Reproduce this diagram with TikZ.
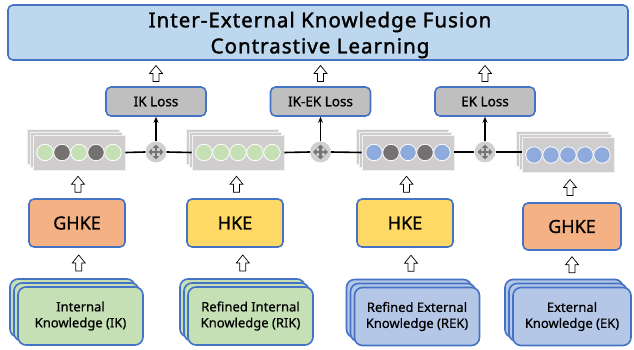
\documentclass[tikz,border=0pt]{standalone}
\usepackage{fontspec}
\setmainfont{Noto Sans}
\newfontfamily\heavyfont{Noto Sans}[FakeBold=1.6, LetterSpace=5]
\newfontfamily\midfont{Noto Sans}[FakeBold=1.0]
\newfontfamily\lightfont{Noto Sans}[FakeBold=0.6]
\usetikzlibrary{shadows,arrows.meta,calc}

\definecolor{bordblue}{HTML}{4472C4}
\definecolor{titlefill}{HTML}{BDD7EE}
\definecolor{lossgray}{HTML}{BFBFBF}
\definecolor{ghkefill}{HTML}{F4B183}
\definecolor{hkefill}{HTML}{FFD966}
\definecolor{kgreen}{HTML}{C5E0B4}
\definecolor{kblue}{HTML}{B4C7E7}
\definecolor{dotblue}{HTML}{8FAADC}
\definecolor{dotdark}{HTML}{767171}
\definecolor{stackgray}{HTML}{CFCDCD}
\definecolor{plusgray}{HTML}{D0D0D0}
\definecolor{plusarrow}{HTML}{767676}

\tikzset{
  box/.style={draw=bordblue, line width=1.6pt, rounded corners=5pt, align=center, inner sep=0pt},
  losbox/.style={box, fill=lossgray, minimum width=100, minimum height=29,
    font=\midfont\fontsize{13.5}{16}\selectfont},
  encbox/.style={box, minimum width=96, minimum height=48, font=\midfont\fontsize{18}{20}\selectfont},
  kbox/.style={box, rounded corners=8pt, minimum width=125, minimum height=58,
    font=\lightfont\fontsize{13}{16}\selectfont,
    double copy shadow={shadow xshift=-4pt, shadow yshift=4pt}},
  vec/.style={fill=stackgray, draw=white!90!gray, line width=0.8pt, minimum width=92, minimum height=35,
    inner sep=0pt, double copy shadow={shadow xshift=-3pt, shadow yshift=3pt}},
  dot/.style={circle, draw=white, line width=0.8pt, minimum size=16.5, inner sep=0pt},
  plus/.style={circle, fill=plusgray, minimum size=21, inner sep=0pt},
  plusarr/.style={draw=plusarrow, line width=2.2pt, -{Triangle[length=3.5pt,width=6.5pt]}},
  link/.style={draw=black, line width=1.6pt},
  uparr/.pic={\draw[line width=0.7pt, fill=white]
    (-3,8) -- (-3,0) -- (-6.5,0) -- (0,-8) -- (6.5,0) -- (3,0) -- (3,8) -- cycle;}
}

\begin{document}
\begin{tikzpicture}[x=1pt,y=-1pt]
\useasboundingbox (0,0) rectangle (634,350);

% contrastive learning head
\node[box, fill=titlefill, minimum width=620, minimum height=55] (title) at (318,32.5) {};
\node[align=center, inner sep=0pt, font=\heavyfont\fontsize{20.5}{26}\selectfont]
  (titletext) at (320,35) {Inter-External Knowledge Fusion\\Contrastive Learning};

% loss boxes
\node[losbox] (lik)  at (156,101.5) {IK Loss};
\node[losbox] (likek) at (320.5,101.5) {IK-EK Loss};
\node[losbox] (lek)  at (485,101.5) {EK Loss};

% stacked representation vectors
\node[vec] (v1) at (79,152.5) {};
\node[vec] (v2) at (238,152.5) {};
\node[vec] (v3) at (408,152.5) {};
\node[vec] (v4) at (568,155) {};

\foreach \i/\c in {1/kgreen,2/dotdark,3/kgreen,4/dotdark,5/kgreen}
  \node[dot, fill=\c] (v1d\i) at ($(v1.center)+(-51+17*\i,0)$) {};
\foreach \i in {1,...,5}
  \node[dot, fill=kgreen] (v2d\i) at ($(v2.center)+(-51+17*\i,0)$) {};
\foreach \i/\c in {1/dotblue,2/dotdark,3/dotblue,4/dotdark,5/dotblue}
  \node[dot, fill=\c] (v3d\i) at ($(v3.center)+(-51+17*\i,0)$) {};
\foreach \i in {1,...,5}
  \node[dot, fill=dotblue] (v4d\i) at ($(v4.center)+(-51+17*\i,0)$) {};

% fusion points
\node[plus] (p1) at (156,152) {};
\node[plus] (p2) at (320.5,152) {};
\node[plus] (p3) at (485,152) {};

% horizontal links between vectors and fusion points
\draw[link] (v1.east) -- (p1.west);
\draw[link] (p1.east) -- (v2.west);
\draw[link] (v2.east) -- (p2.west);
\draw[link] (p2.east) -- (v3.west);
\draw[link] (v3.east |- p3) -- (p3.west);
\draw[link] (p3.east) -- (p3 -| v4.west);

% four-way arrow glyphs on the fusion points
\foreach \p in {p1,p2,p3} {
  \draw[plusarr] (\p.center) -- ++(0,-7.5);
  \draw[plusarr] (\p.center) -- ++(0,7.5);
  \draw[plusarr] (\p.center) -- ++(-7.5,0);
  \draw[plusarr] (\p.center) -- ++(7.5,0);
}

% fusion points feed the losses
\draw[link, -{Stealth[length=6pt,width=5pt]}] (p1.north) -- (lik.south);
\draw[link, -{Stealth[length=6pt,width=5pt]}] (p2.north) -- (likek.south);
\draw[link, -{Stealth[length=6pt,width=5pt]}] (p3.north) -- (lek.south);

% encoders
\node[encbox, fill=ghkefill] (e1) at (77,223) {GHKE};
\node[encbox, fill=hkefill]  (e2) at (235,223) {HKE};
\node[encbox, fill=hkefill]  (e3) at (405,223) {HKE};
\node[encbox, fill=ghkefill, minimum width=98, minimum height=47] (e4) at (572,226.5) {GHKE};

% knowledge sources
\node[kbox, fill=kgreen] (k1) at (80.5,316) {Internal\\Knowledge (IK)};
\node[kbox, fill=kgreen] (k2) at (250.5,316) {Refined Internal\\Knowledge (RIK)};
\node[kbox, fill=kblue]  (k3) at (417,316.5) {Refined External\\Knowledge (REK)};
\node[kbox, fill=kblue, minimum width=118] (k4) at (572,316.5) {External\\Knowledge (EK)};

% hollow flow arrows
\foreach \l in {lik,likek,lek}
  \pic at ($(\l.north)!0.5!(\l.north |- title.south)$) {uparr};
\foreach \e/\v in {e1/v1,e2/v2,e3/v3,e4/v4}
  \pic at ($(\e.north)!0.5!(\v.south)$) {uparr};
\foreach \k/\e in {k1/e1,k2/e2,k3/e3,k4/e4}
  \pic at ($(\k.north)!0.5!(\e.south)+(0,-4)$) {uparr};
\end{tikzpicture}
\end{document}
